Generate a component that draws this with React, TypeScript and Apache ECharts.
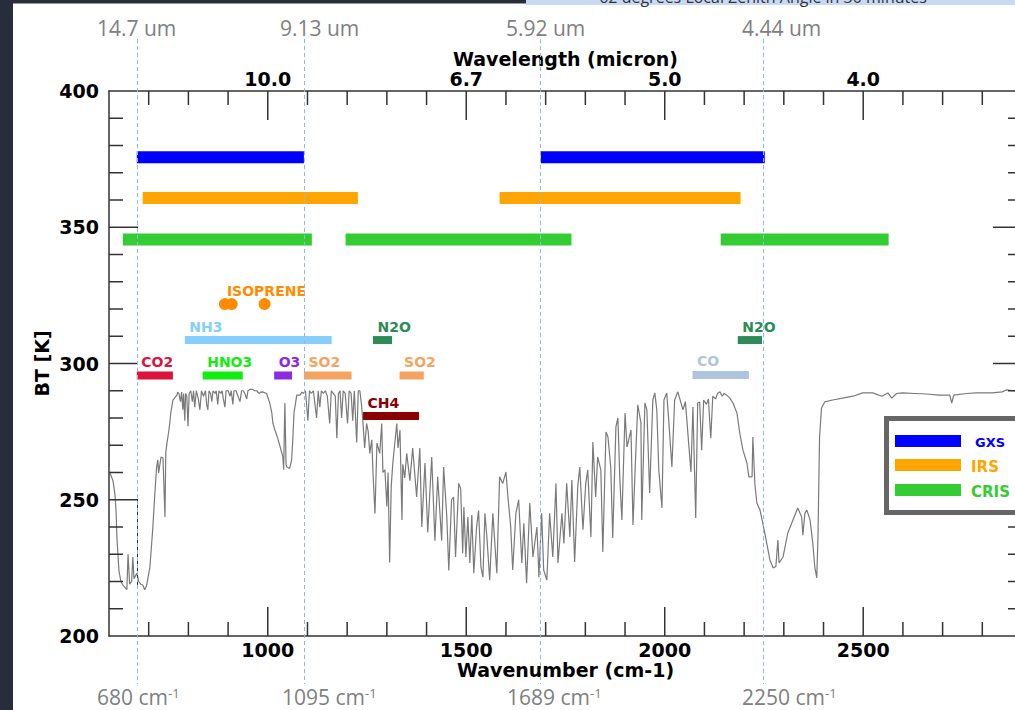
import React, { useEffect, useRef } from "react";
import * as echarts from "echarts";

// ---------- data ----------
const X_MIN = 600;
const X_MAX = 2900;
const Y_MIN = 200;
const Y_MAX = 400;
const xMajorTicks = [1000, 1500, 2000, 2500];
const topTickLabels = ["10.0", "6.7", "5.0", "4.0"];
const yMajorTicks = [200, 250, 300, 350, 400];

// brightness temperature spectrum [wavenumber, BT]
const spectrum: [number, number][] = [
  [600, 262], [602, 260], [610, 257], [615, 252], [618, 245], [620, 236], [625, 224], [630, 220],
  [635, 218.7], [645, 217], [648, 230], [652, 219], [657, 220], [660, 229], [663, 221], [670, 223],
  [675, 220], [680, 219], [685, 218.7], [690, 217], [695, 218.7], [703, 225.3], [710, 238.9],
  [715, 251], [720, 262], [723, 264.6], [725, 259.8], [731, 265.7], [736, 265.3], [741, 243.7],
  [743, 267.1], [746, 270.8], [751, 275.6], [756, 282.2], [761, 286.6], [771, 288.4], [773, 289.5],
  [776, 289], [780, 286], [783, 289.5], [786, 283], [788, 289], [791, 279], [793, 289], [796, 288],
  [799, 277], [802, 289], [806, 290], [810, 286], [813, 290], [816, 284], [820, 290], [825, 287],
  [829, 283], [833, 290], [838, 288], [843, 290], [846, 285], [849, 283], [852, 290], [856, 289],
  [859, 286], [862, 290], [867, 289], [870, 290], [874, 285], [877, 290], [882, 289], [885, 290],
  [888, 287], [892, 284], [895, 290], [900, 290], [905, 288], [908, 290], [912, 285], [915, 290],
  [920, 290], [925, 288], [930, 286], [934, 290], [938, 290], [942, 289], [947, 287], [950, 290],
  [955, 290.5], [962, 290.5], [967, 290], [972, 290], [978, 289], [982, 289.5], [987, 289.6],
  [997, 289], [1005, 285.5], [1010, 282], [1013, 278], [1018, 275.6], [1025, 272.6], [1030, 270],
  [1038, 265.7], [1040, 261], [1043, 285.5], [1046, 263], [1048, 262], [1055, 261.5], [1060, 264.6],
  [1063, 272], [1066, 281.8], [1073, 288.4], [1081, 288.4],
  [1086, 289.5], [1090, 289], [1095, 290], [1101, 279], [1105, 290], [1110, 289], [1115, 290],
  [1118, 286], [1123, 280], [1127, 290], [1131, 284], [1135, 290], [1140, 289], [1145, 290],
  [1150, 288], [1156, 278], [1160, 290], [1165, 289], [1170, 288], [1174, 272.6], [1178, 289],
  [1182, 290], [1186, 280], [1190, 290], [1195, 289], [1201, 278], [1205, 290], [1210, 289],
  [1214, 279], [1218, 290], [1224, 271], [1228, 290], [1232, 290], [1236, 285], [1239, 280],
  [1244, 269], [1249, 278], [1253, 275], [1257, 267], [1262, 272], [1265, 260], [1270, 245],
  [1275, 270.8], [1282, 267], [1287, 278], [1290, 260], [1295, 261], [1300, 247.5], [1303, 260],
  [1307, 227], [1311, 255], [1315, 263.5], [1325, 278], [1328, 269], [1333, 275.6], [1338, 242.6],
  [1340, 263], [1345, 258], [1350, 267], [1358, 257], [1365, 269], [1375, 251], [1383, 269],
  [1388, 240], [1396, 263.5], [1403, 238], [1413, 265.7], [1421, 235], [1428, 258.4], [1438, 235],
  [1443, 262], [1451, 243.7], [1456, 224], [1463, 250], [1468, 251], [1473, 229], [1481, 256],
  [1486, 254], [1491, 230.4], [1494, 247.3], [1499, 229], [1504, 243.7], [1509, 226.8],
  [1514, 244.4], [1519, 223], [1526, 240], [1531, 246], [1537, 225.3], [1542, 221.6], [1547, 245],
  [1552, 236.3], [1559, 220.5], [1567, 245], [1577, 223], [1584, 258.4], [1592, 256], [1600, 260.2],
  [1605, 251], [1612, 240], [1617, 224.2], [1625, 245], [1632, 250], [1640, 226.8], [1645, 241.4],
  [1652, 219.4], [1660, 248.8], [1668, 229], [1678, 240], [1683, 221.6], [1690, 245], [1695, 224.2],
  [1703, 220.5], [1710, 245], [1718, 229], [1726, 256], [1731, 226.8], [1741, 245], [1746, 234],
  [1753, 256], [1761, 236.3], [1766, 257.2], [1773, 227.2], [1781, 255], [1786, 262], [1794, 239],
  [1801, 256], [1806, 261], [1814, 236.3], [1819, 271.2], [1826, 251], [1831, 265.7], [1839, 261],
  [1844, 230.8], [1852, 274.9], [1857, 273], [1864, 262], [1869, 236], [1877, 276.7], [1882, 280],
  [1887, 257.2], [1892, 242.6], [1900, 281.8], [1905, 269.4], [1915, 275.6], [1920, 240.7],
  [1927, 267], [1932, 284.8], [1940, 278.2], [1942, 242.6], [1950, 285.5], [1955, 283],
  [1962, 252.5], [1970, 286.6], [1975, 289.2], [1980, 283], [1985, 261], [1993, 247], [1998, 286.6],
  [2005, 289.2], [2010, 279.3], [2018, 262], [2025, 286.6], [2033, 289.6], [2038, 287], [2046, 283],
  [2052, 286], [2061, 269.4], [2066, 260.2], [2071, 284], [2078, 243.3], [2083, 285.5],
  [2088, 285.9], [2093, 268.2], [2098, 286.6], [2105, 285], [2110, 287], [2116, 272.6], [2121, 288],
  [2128, 287], [2133, 289], [2139, 289.6], [2145, 288], [2150, 289], [2156, 288.4], [2164, 287.3],
  [2172, 285.5], [2182, 281.8], [2189, 274.5], [2197, 268.2], [2207, 263.5], [2212, 258.4],
  [2220, 258.4], [2222, 273], [2227, 256], [2232, 248.8], [2240, 246.2], [2247, 241.4], [2257, 234],
  [2265, 227.9], [2273, 225], [2280, 225.5], [2285, 235.2], [2288, 226.8], [2298, 229],
  [2310, 237.8], [2323, 242.6], [2335, 247], [2345, 243.7], [2348, 237], [2353, 245], [2358, 246.2],
  [2366, 242.6], [2373, 234], [2378, 225.3], [2383, 221.3], [2386, 236.3], [2390, 273],
  [2395, 283.7], [2403, 285.9], [2423, 286.6], [2448, 287.3], [2474, 288], [2499, 289.2],
  [2524, 289.2], [2547, 288], [2562, 289.2], [2572, 287.3], [2584, 289], [2599, 289.2], [2630, 289],
  [2660, 288.8], [2690, 288.4], [2718, 288.4], [2723, 285.5], [2728, 288.4], [2760, 289],
  [2785, 289.2], [2825, 289.2], [2850, 289.6], [2860, 290.3], [2880, 290], [2900, 290],
];

// instrument coverage
const gxsRanges = [[670, 1091], [1688, 2252]];
const irsRanges = [[685, 1227], [1584, 2191]];
const crisRanges = [[635, 1111], [1196, 1765], [2141, 2564]];
const gxsBT = 375.7;
const irsBT = 360.7;
const crisBT = 345.5;

// gas absorption bands
const gasNames = ["CO2", "HNO3", "O3", "SO2", "SO2", "NH3", "N2O", "N2O", "CO", "CH4"];
const gasStart = [670, 836, 1016, 1091, 1332, 791, 1265, 2184, 2070, 1240];
const gasEnd = [761, 937, 1061, 1211, 1393, 1161, 1313, 2245, 2212, 1381];
const gasBT = [295.6, 295.6, 295.6, 295.6, 295.6, 308.6, 308.6, 308.6, 295.8, 280.7];
const gasColors = ["#dc143c", "#10ee10", "#8a2be2", "#f4a460", "#f4a460", "#87cefa", "#2e8b57", "#2e8b57", "#b0c4de", "#8b0000"];

const isopreneWn = [892, 909, 992];
const isopreneBT = 321.8;

// reference wavenumber marks
const refLineWn = [670, 1091, 1687, 2248];
const refTopText = ["14.7 um", "9.13 um", "5.92 um", "4.44 um"];
const refBottomText = ["680", "1095", "1689", "2250"];

// ---------- styles ----------
const FONT = "DejaVu Sans";
const AX = "#333333";
const labelFont = { fontFamily: FONT, fontWeight: "bold" as const, fontSize: 19, color: "#000" };

function instrumentSeries(name: string, ranges: number[][], bt: number, color: string) {
  return {
    type: "custom",
    name,
    xAxisIndex: 0,
    yAxisIndex: 0,
    z: 4,
    silent: true,
    data: ranges.map((r) => [r[0], r[1], bt]),
    renderItem: (params: any, api: any) => {
      const s = api.coord([api.value(0), api.value(2)]);
      const e = api.coord([api.value(1), api.value(2)]);
      const h = 12;
      return {
        type: "rect",
        shape: { x: s[0], y: s[1] - h / 2, width: e[0] - s[0], height: h },
        style: { fill: color },
      };
    },
  };
}

export default function App() {
  const ref = useRef<HTMLDivElement>(null);

  useEffect(() => {
    if (!ref.current) return;
    const chart = echarts.init(ref.current, null, { renderer: "svg" });

    const majorTop = (v: number) => {
      const i = xMajorTicks.indexOf(v);
      return i >= 0 ? topTickLabels[i] : "";
    };
    const plain = (v: number) => String(v);

    const option: any = {
      animation: false,
      backgroundColor: "#ffffff",
      grid: { left: 109, top: 91, width: 913, height: 545, containLabel: false },
      xAxis: [
        {
          type: "value", min: X_MIN, max: X_MAX, position: "bottom",
          axisLine: { show: true, onZero: false, lineStyle: { color: AX, width: 1.5 } },
          axisTick: { show: false },
          axisLabel: { show: true, customValues: xMajorTicks, margin: 4, formatter: plain, ...labelFont },
          splitLine: { show: false },
          name: "Wavenumber (cm-1)", nameLocation: "middle", nameGap: 24, nameMoveOverlap: false,
          nameTextStyle: { ...labelFont },
        },
        {
          type: "value", min: X_MIN, max: X_MAX, position: "top",
          axisLine: { show: true, onZero: false, lineStyle: { color: AX, width: 1.5 } },
          axisTick: { show: false },
          axisLabel: { show: true, customValues: xMajorTicks, margin: 3, formatter: majorTop, ...labelFont },
          splitLine: { show: false },
          name: "Wavelength (micron)", nameLocation: "middle", nameGap: 23, nameMoveOverlap: false,
          nameTextStyle: { ...labelFont },
        },
      ],
      yAxis: [
        {
          type: "value", min: Y_MIN, max: Y_MAX, interval: 50, position: "left",
          axisLine: { show: true, onZero: false, lineStyle: { color: AX, width: 1.5 } },
          axisTick: { show: false },
          axisLabel: { show: true, margin: 10, formatter: plain, ...labelFont },
          splitLine: { show: false },
          name: "BT [K]", nameLocation: "middle", nameGap: 58, nameMoveOverlap: false,
          nameTextStyle: { ...labelFont },
        },
        {
          type: "value", min: Y_MIN, max: Y_MAX, interval: 50, position: "right",
          axisLine: { show: true, onZero: false, lineStyle: { color: AX, width: 1.5 } },
          axisTick: { show: false },
          axisLabel: { show: false },
          splitLine: { show: false },
        },
      ],
      series: [
        {
          type: "line",
          name: "spectrum",
          xAxisIndex: 0,
          yAxisIndex: 0,
          data: spectrum,
          showSymbol: false,
          symbol: "none",
          silent: true,
          z: 2,
          lineStyle: { color: "#7a7a7a", width: 1.2 },
        },
        instrumentSeries("GXS", gxsRanges, gxsBT, "#0000ff"),
        instrumentSeries("IRS", irsRanges, irsBT, "#ffa500"),
        instrumentSeries("CRIS", crisRanges, crisBT, "#33cc33"),
        {
          type: "custom",
          name: "gases",
          xAxisIndex: 0,
          yAxisIndex: 0,
          z: 5,
          silent: true,
          data: gasNames.map((n, i) => [gasStart[i], gasEnd[i], gasBT[i], i]),
          renderItem: (params: any, api: any) => {
            const i = api.value(3);
            const s = api.coord([api.value(0), api.value(2)]);
            const e = api.coord([api.value(1), api.value(2)]);
            const h = 8;
            return {
              type: "group",
              children: [
                {
                  type: "rect",
                  shape: { x: s[0], y: s[1] - h / 2, width: e[0] - s[0], height: h },
                  style: { fill: gasColors[i] },
                },
                {
                  type: "text",
                  x: s[0] + 4.5,
                  y: s[1] - 13.5,
                  style: {
                    text: gasNames[i],
                    fill: gasColors[i],
                    font: `bold 14px "${FONT}"`,
                    align: "left",
                    verticalAlign: "middle",
                  },
                },
              ],
            };
          },
        },
        {
          type: "scatter",
          name: "ISOPRENE",
          xAxisIndex: 0,
          yAxisIndex: 0,
          z: 5,
          silent: true,
          symbol: "circle",
          symbolSize: 12,
          itemStyle: { color: "#ff8c00", opacity: 1 },
          data: isopreneWn.map((w) => [w, isopreneBT]),
          label: {
            show: true,
            formatter: (p: any) => (p.dataIndex === 0 ? "ISOPRENE" : ""),
            position: [8, -7],
            color: "#ff8c00",
            fontFamily: FONT,
            fontWeight: "bold",
            fontSize: 14,
            align: "left",
            verticalAlign: "middle",
          },
        },
      ],
    };

    chart.setOption(option);

    const px = (v: number) => chart.convertToPixel({ xAxisIndex: 0 }, v) as number;
    const py = (v: number) => chart.convertToPixel({ yAxisIndex: 0 }, v) as number;

    const elements: any[] = [];

    // tick marks (inward), minor every 100 cm-1 / 10 K, major at labelled values
    const xL = px(X_MIN), xR = px(X_MAX), yB = py(Y_MIN), yT = py(Y_MAX);
    const tickStyle = { stroke: AX, lineWidth: 1.5 };
    for (let v = X_MIN + 100; v < X_MAX; v += 100) {
      const len = xMajorTicks.indexOf(v) >= 0 ? 29 : 14;
      const x = px(v);
      elements.push({ type: "line", z: 20, silent: true, shape: { x1: x, y1: yB, x2: x, y2: yB - len }, style: tickStyle });
      elements.push({ type: "line", z: 20, silent: true, shape: { x1: x, y1: yT, x2: x, y2: yT + len }, style: tickStyle });
    }
    for (let v = Y_MIN + 10; v < Y_MAX; v += 10) {
      const len = yMajorTicks.indexOf(v) >= 0 ? 29 : 14;
      const y = py(v);
      elements.push({ type: "line", z: 20, silent: true, shape: { x1: xL, y1: y, x2: xL + len, y2: y }, style: tickStyle });
      elements.push({ type: "line", z: 20, silent: true, shape: { x1: xR, y1: y, x2: xR - len, y2: y }, style: tickStyle });
    }

    const topLeft = [97, 280, 506, 742];
    const botLeft = [97, 282, 507, 742];
    const grayText = "#808080";
    const grayFont = `21px "Open Sans"`;

    // dark frame strips and banner
    elements.push({ type: "rect", shape: { x: 0, y: 0, width: 13, height: 710 }, style: { fill: "#272d3b" }, z: 50 });
    elements.push({ type: "rect", shape: { x: 0, y: 0, width: 526, height: 3.5 }, style: { fill: "#272d3b" }, z: 50 });
    elements.push({ type: "rect", shape: { x: 526, y: 0, width: 600, height: 5 }, style: { fill: "#c7d9f5" }, z: 50 });
    elements.push({
      type: "text", x: 763, y: 4.5, z: 51,
      style: { text: "62 degrees Local Zenith Angle in 30 minutes", fill: "#333", font: `16px "Open Sans"`, align: "center", verticalAlign: "bottom" },
    });

    refLineWn.forEach((w, i) => {
      const x = Math.round(px(w)) + 0.5;
      elements.push({
        type: "line", z: 40, silent: true,
        shape: { x1: x, y1: 39, x2: x, y2: 684 },
        style: { stroke: "#8dbbe6", lineWidth: 1, lineDash: [4, 3] },
      });
      elements.push({
        type: "text", x: topLeft[i], y: 28, z: 41,
        style: { text: refTopText[i], fill: grayText, font: grayFont, align: "left", verticalAlign: "middle" },
      });
      elements.push({
        type: "text", x: botLeft[i], y: 697, z: 41,
        style: {
          text: `${refBottomText[i]} cm{s|-1}`,
          fill: grayText, font: grayFont, align: "left", verticalAlign: "middle",
          rich: { s: { fontSize: 13, fontFamily: "Open Sans", fill: grayText, verticalAlign: "top" } },
        },
      });
    });

    // stray frame artifact near the lower left
    elements.push({
      type: "polyline", z: 30, silent: true,
      shape: { points: [[110, 499.5], [137.5, 499.5], [137.5, 588]] },
      style: { stroke: "#333", lineWidth: 1, fill: null },
    });

    // legend box
    elements.push({
      type: "rect", z: 60,
      shape: { x: 886.5, y: 418.5, width: 300, height: 94 },
      style: { fill: "#ffffff", stroke: "#666666", lineWidth: 5 },
    });
    const legendItems = [
      { t: "GXS", c: "#0000ff", y: 435, tx: 975, fs: 13 },
      { t: "IRS", c: "#ffa500", y: 459, tx: 971, fs: 15 },
      { t: "CRIS", c: "#33cc33", y: 484, tx: 971, fs: 15 },
    ];
    legendItems.forEach((it) => {
      elements.push({ type: "rect", z: 61, shape: { x: 895, y: it.y, width: 66, height: 12 }, style: { fill: it.c } });
      elements.push({
        type: "text", x: it.tx, y: it.y + 7.5, z: 61,
        style: { text: it.t, fill: it.c, font: `bold ${it.fs}px "${FONT}"`, align: "left", verticalAlign: "middle" },
      });
    });

    chart.setOption({ graphic: { elements } });

    return () => {
      chart.dispose();
    };
  }, []);

  return (
    <div style={{ position: "fixed", left: 0, top: 0, width: 1015, height: 710, overflow: "hidden", background: "#fff" }}>
      <div ref={ref} style={{ width: 1100, height: 710 }} />
    </div>
  );
}
